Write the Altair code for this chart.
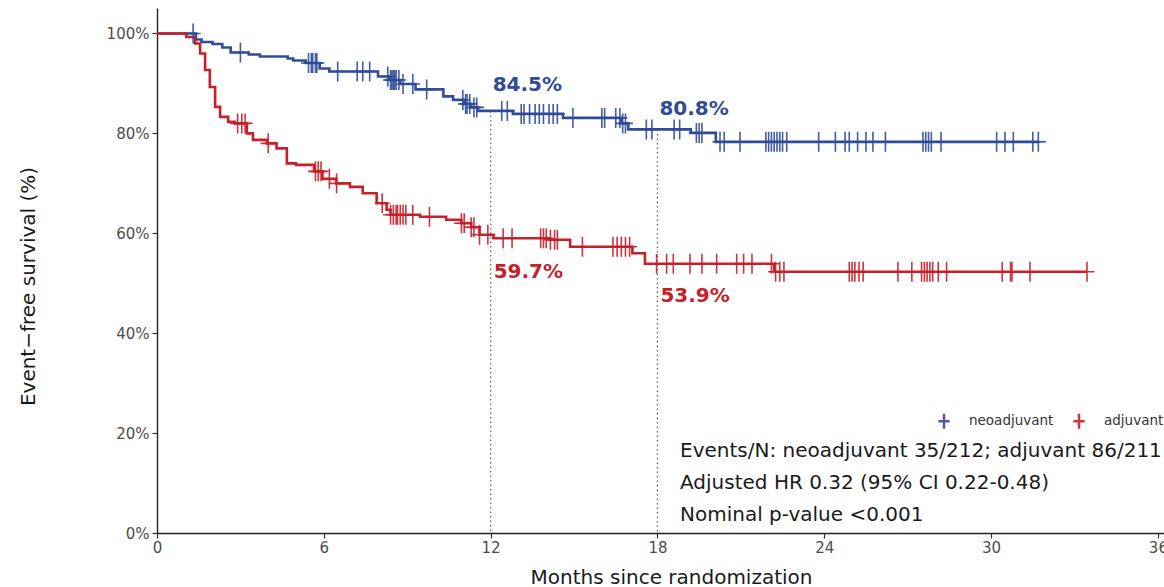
import altair as alt
import pandas as pd

# ---------------- data ----------------
groups = ["neoadjuvant", "adjuvant"]
colors = ["#2F4B9A", "#C8202A"]

neo_time = [0, 1.4, 1.6, 2.0, 2.35, 2.65, 3.3, 3.7, 4.7, 4.9, 5.35, 5.85, 6.2, 7.95,
            8.35, 8.75, 9.3, 10.3, 10.65, 11.05, 11.3, 11.55, 12.8, 14.6, 16.7, 16.95,
            19.2, 20.1]
neo_surv = [100, 98.8, 98.3, 97.9, 97.2, 96.2, 95.8, 95.4, 95.0, 94.6, 94.1, 93.0, 92.4, 91.4,
            90.7, 89.9, 88.8, 87.4, 86.7, 85.9, 85.2, 84.5, 83.9, 83.1, 82.0, 80.8,
            80.1, 78.3]
neo_end = 31.7
neo_censor = [1.3, 3.0, 5.45, 5.55, 5.6, 5.7, 5.75, 6.5, 7.2, 7.4, 7.65, 8.3, 8.4, 8.45, 8.5,
              8.55, 8.6, 8.7, 8.85, 9.2, 9.7, 11.0, 11.1, 11.15, 11.25, 11.4, 11.5, 12.4, 12.6,
              13.1, 13.2, 13.4, 13.6, 13.75, 13.9, 14.1, 14.25, 14.4, 14.96, 16.0, 16.1, 16.5,
              16.65, 16.75, 16.85, 17.6, 17.8, 18.6, 18.8, 19.4, 19.5, 19.6, 20.25, 20.4, 20.97,
              21.9, 22.0, 22.1, 22.2, 22.3, 22.4, 22.5, 22.65, 23.8, 24.4, 24.75, 24.9, 25.2,
              25.5, 25.75, 26.2, 27.55, 27.65, 27.75, 27.85, 28.2, 30.2, 30.5, 30.8, 31.5, 31.7]

adj_time = [0, 1.05, 1.37, 1.55, 1.73, 1.9, 2.09, 2.27, 2.56, 2.8, 3.23, 3.45, 3.95, 4.3,
            4.67, 5.0, 5.65, 5.95, 6.45, 6.94, 7.4, 7.9, 8.26, 8.4, 9.46, 10.4, 10.95, 11.3,
            11.6, 12.1, 14.1, 14.86, 17.1, 17.55, 22.2]
adj_surv = [100, 99.3, 98.0, 96.0, 92.7, 89.3, 85.3, 83.3, 82.3, 82.0, 80.0, 78.7, 78.0, 77.0,
            74.0, 73.7, 72.4, 70.9, 70.0, 69.3, 68.0, 66.0, 64.7, 63.7, 63.3, 62.7, 62.0, 61.2,
            59.7, 59.0, 58.7, 57.3, 56.0, 53.9, 52.3]
adj_end = 33.45
adj_censor = [2.9, 3.05, 3.17, 4.0, 5.7, 5.8, 5.9, 6.2, 6.46, 8.1, 8.4, 8.5, 8.6, 8.65, 8.75,
              8.85, 8.95, 9.2, 9.8, 10.95, 11.05, 11.3, 11.4, 11.6, 11.9, 12.45, 12.77, 13.8,
              13.9, 14.0, 14.15, 14.3, 14.4, 15.3, 16.4, 16.55, 16.7, 16.85, 17.0, 17.97, 18.33,
              18.57, 19.17, 19.6, 20.13, 20.85, 21.1, 21.4, 22.1, 22.25, 22.4, 22.55, 24.9, 25.0,
              25.1, 25.25, 25.4, 26.65, 27.15, 27.5, 27.6, 27.7, 27.8, 27.9, 28.1, 28.4, 30.4,
              30.7, 30.75, 31.4, 33.45]

landmark_months = [12, 18]
neo_landmark = [84.5, 80.8]
adj_landmark = [59.7, 53.9]

stats_lines = ["Events/N: neoadjuvant 35/212; adjuvant 86/211",
               "Adjusted HR 0.32 (95% CI 0.22-0.48)",
               "Nominal p-value <0.001"]

x_ticks = [0, 6, 12, 18, 24, 30, 36]
y_ticks = [0, 20, 40, 60, 80, 100]

# ---------------- tables ----------------
def surv_at(times, survs, t):
    s = survs[0]
    for tt, ss in zip(times, survs):
        if tt <= t:
            s = ss
    return s

step_rows, cens_rows = [], []
for g, tt, ss, end, cc in [("neoadjuvant", neo_time, neo_surv, neo_end, neo_censor),
                           ("adjuvant", adj_time, adj_surv, adj_end, adj_censor)]:
    for t, s in zip(tt, ss):
        step_rows.append({"group": g, "time": t, "surv": s})
    step_rows.append({"group": g, "time": end, "surv": ss[-1]})
    for c in cc:
        cens_rows.append({"group": g, "time": c, "surv": surv_at(tt, ss, c)})
steps = pd.DataFrame(step_rows)
cens = pd.DataFrame(cens_rows)
rules_df = pd.DataFrame({"time": landmark_months, "surv": neo_landmark,
                         "base": [0] * len(landmark_months)})

FONT = "DejaVu Sans"
PLUS = "M0,-1V1M-0.75,0H0.75"

xscale = alt.Scale(domain=[0, 36.22], nice=False, zero=False)
yscale = alt.Scale(domain=[0, 105.1], nice=False)
xaxis = alt.Axis(values=x_ticks, labelFlush=False, grid=False, tickSize=5, labelPadding=2,
                 domainColor="#222", domainWidth=1.4, tickColor="#333", tickWidth=1.2,
                 labelFontSize=15, labelFont=FONT, labelColor="#4d4d4d",
                 titleFont=FONT, titleFontSize=20, titleFontWeight="normal", titleColor="#1a1a1a",
                 titleX=514, titleY=44, titleAlign="center", titleBaseline="middle")
yaxis = alt.Axis(values=y_ticks, labelExpr="datum.value + '%'", grid=False, tickSize=5,
                 labelPadding=3, domainColor="#222", domainWidth=1.4, tickColor="#333",
                 tickWidth=1.2, labelFontSize=15, labelFont=FONT, labelColor="#4d4d4d",
                 titleFont=FONT, titleFontSize=20, titleFontWeight="normal", titleColor="#1a1a1a",
                 titleX=-129, titleY=278, titleAngle=270, titleAlign="center",
                 titleBaseline="middle")

def X():
    return alt.X("time:Q", scale=xscale, axis=xaxis, title="Months since randomization")

def Y():
    return alt.Y("surv:Q", scale=yscale, axis=yaxis, title="Event−free survival (%)")

legend = alt.Legend(orient="none", legendX=778, legendY=404, direction="horizontal", title=None,
                    symbolType=PLUS, symbolSize=225, symbolStrokeWidth=2.5,
                    labelFontSize=13.5, labelFont=FONT, labelColor="#333", labelOffset=16,
                    columnPadding=14, padding=0)

def C():
    return alt.Color("group:N", scale=alt.Scale(domain=groups, range=colors), legend=legend)

rules = alt.Chart(rules_df).mark_rule(color="#666", strokeDash=[1.5, 3], strokeWidth=1.3).encode(
    x=X(), y=Y(), y2=alt.Y2("base:Q"))

lines = alt.Chart(steps).mark_line(interpolate="step-after", strokeWidth=2.6).encode(
    x=X(), y=Y(), color=C())

censors = alt.Chart(cens).mark_point(shape=PLUS, size=400, filled=False, strokeWidth=1.6,
                                     opacity=0.9).encode(x=X(), y=Y(), color=C())

labels = []
offsets = [(2, -26), (2, -20), (3, 37), (3, 32)]
ann = [(landmark_months[0], neo_landmark[0], colors[0]),
       (landmark_months[1], neo_landmark[1], colors[0]),
       (landmark_months[0], adj_landmark[0], colors[1]),
       (landmark_months[1], adj_landmark[1], colors[1])]
for (t, v, col), (dx, dy) in zip(ann, offsets):
    df = pd.DataFrame({"time": [t], "surv": [v], "label": [f"{v:.1f}%"]})
    labels.append(alt.Chart(df).mark_text(align="left", baseline="middle", fontSize=20,
                                          fontWeight="bold", font=FONT, color=col,
                                          dx=dx, dy=dy).encode(x=X(), y=Y(), text="label:N"))

stats = []
for i, line in enumerate(stats_lines):
    df = pd.DataFrame({"t": [line]})
    stats.append(alt.Chart(df).mark_text(align="left", baseline="middle", fontSize=20,
                                         font=FONT, color="#1a1a1a").encode(
        x=alt.value(523), y=alt.value(443 + 32 * i), text="t:N"))

chart = alt.layer(rules, lines, censors, *labels, *stats).properties(
    width=1007, height=525,
    padding={"left": 157, "top": 8, "right": 0, "bottom": 54},
    autosize=alt.AutoSizeParams(type="none"),
    background="white",
).configure_view(stroke=None)

chart.save("out.html", embed_options={"renderer": "svg", "actions": False})
